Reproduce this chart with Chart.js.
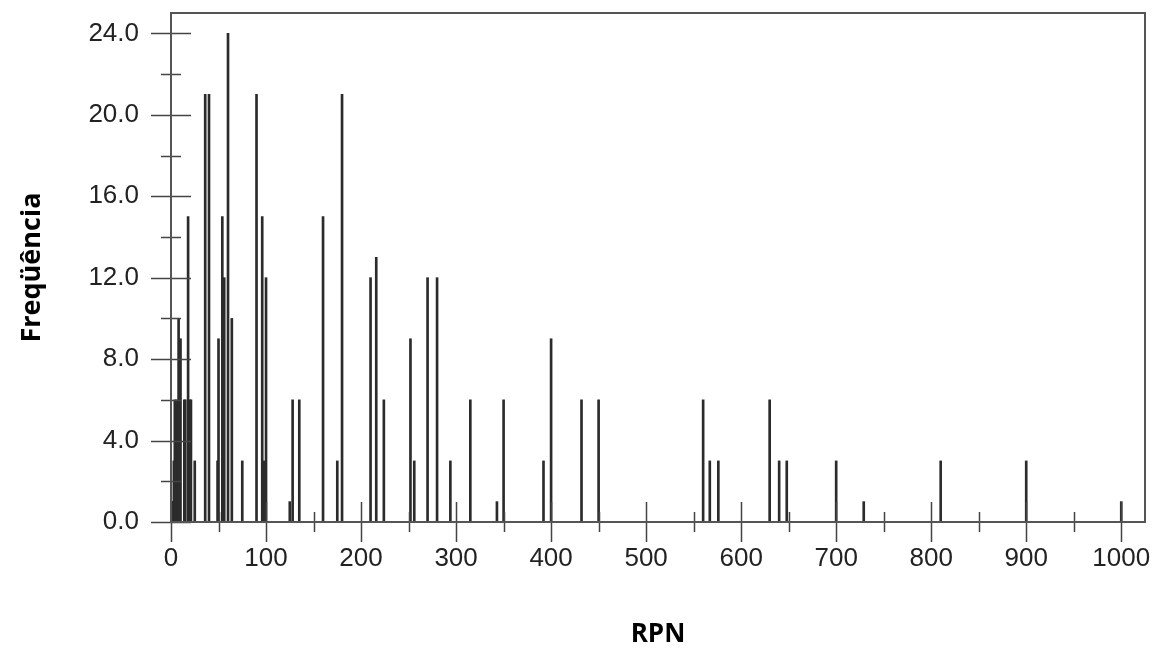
<!DOCTYPE html>
<html>
<head>
<meta charset="utf-8">
<script src="https://cdn.jsdelivr.net/npm/chart.js@4.4.1/dist/chart.umd.min.js"></script>
<style>
  html,body{margin:0;padding:0;background:#fff;}
  #chart{display:block;}
</style>
</head>
<body>
<canvas id="chart" width="1155" height="650"></canvas>
<script>
// RPN values and how often each one shows up
const rpn =  [1,2,3,4,5,6,7,8,10,14,15,18,20,21,25,36,40,49,50,54,56,60,64,75,90,96,98,100,
              125,128,135,160,175,180,210,216,224,252,256,270,280,294,315,343,350,392,400,432,450,
              560,567,576,630,640,648,700,729,810,900,1000];
const freq = [1,1,3,6,3,6,3,10,9,6,6,15,6,6,3,21,21,3,9,15,12,24,10,3,21,15,3,12,
              1,6,6,15,3,21,12,13,6,9,3,12,12,3,6,1,6,3,9,6,6,
              6,3,3,6,3,3,3,1,3,3,1];

const yMajor = [0,4,8,12,16,20,24];
const yMinor = [2,6,10,14,18,22];
const xMajor = [0,100,200,300,400,500,600,700,800,900,1000];
const xMinor = [50,150,250,350,450,550,650,750,850,950];

const ink='#2b2b2b';
const numFont='"Liberation Sans", Arial, sans-serif';

// frame + ticks that cross the axis lines (Chart.js only draws them outside)
const crossTicks={
  id:'crossTicks',
  afterDatasetsDraw(chart){
    const {ctx,chartArea:a,scales:{x,y}}=chart;
    ctx.save();
    ctx.strokeStyle='#444';
    ctx.lineWidth=1.5;
    ctx.beginPath();
    yMajor.forEach(v=>{const p=Math.round(y.getPixelForValue(v))+0.5;ctx.moveTo(a.left-20,p);ctx.lineTo(a.left+20,p);});
    yMinor.forEach(v=>{const p=Math.round(y.getPixelForValue(v))+0.5;ctx.moveTo(a.left-10,p);ctx.lineTo(a.left+10,p);});
    xMajor.forEach(v=>{const p=Math.round(x.getPixelForValue(v))+0.5;ctx.moveTo(p,a.bottom-20);ctx.lineTo(p,a.bottom+20);});
    xMinor.forEach(v=>{const p=Math.round(x.getPixelForValue(v))+0.5;ctx.moveTo(p,a.bottom-10);ctx.lineTo(p,a.bottom+10);});
    ctx.stroke();
    ctx.strokeStyle='#555';
    ctx.lineWidth=2;
    ctx.strokeRect(a.left,a.top,a.right-a.left,a.bottom-a.top);
    ctx.restore();
  }
};

new Chart(document.getElementById('chart').getContext('2d'),{
  type:'bar',
  data:{datasets:[{
    data:rpn.map((r,i)=>({x:r,y:freq[i]})),
    backgroundColor:ink,
    borderWidth:0,
    barThickness:2
  }]},
  options:{
    responsive:false,
    animation:false,
    devicePixelRatio:1,
    layout:{padding:{left:0,top:13,right:10,bottom:0}},
    plugins:{legend:{display:false},tooltip:{enabled:false}},
    scales:{
      x:{
        type:'linear',min:0,max:1025,offset:false,
        grid:{display:false},border:{display:false},
        afterBuildTicks(s){s.ticks=xMajor.map(v=>({value:v}));},
        afterFit(s){s.height=128;s.paddingLeft=0;s.paddingRight=0;},
        ticks:{padding:13,maxRotation:0,autoSkip:false,color:'#222',
          font:{family:numFont,size:26},
          callback:v=>String(v)},
        title:{display:true,text:'RPN',color:'#000',padding:{top:0,bottom:0},
          font:{family:'"Open Sans", sans-serif',size:26,weight:'bold'}}
      },
      y:{
        min:0,max:25,
        grid:{display:false},border:{display:false},
        afterBuildTicks(s){s.ticks=yMajor.map(v=>({value:v}));},
        afterFit(s){s.width=171;s.paddingTop=0;s.paddingBottom=0;},
        ticks:{padding:24,color:'#222',
          font:{family:numFont,size:26},
          callback:v=>Number(v).toFixed(1)},
        title:{display:true,text:'Freqüência',color:'#000',padding:{top:16,bottom:0},
          font:{family:'"Open Sans", sans-serif',size:27,weight:'bold'}}
      }
    }
  },
  plugins:[crossTicks]
});
</script>
</body>
</html>
